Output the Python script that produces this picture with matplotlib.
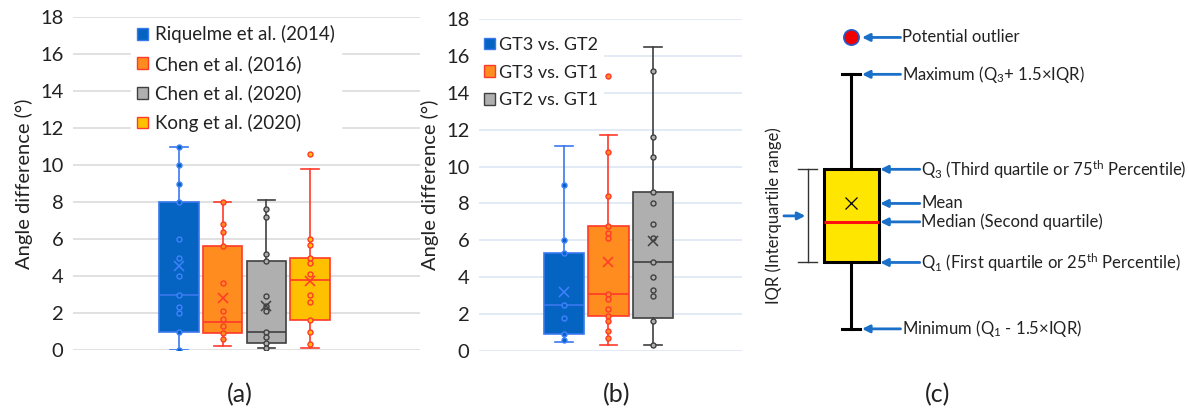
import numpy as np
import matplotlib
matplotlib.use("Agg")
import matplotlib.pyplot as plt
from matplotlib.patches import Patch

plt.rcParams['font.family'] = ['Lato', 'DejaVu Sans']
plt.rcParams['mathtext.fontset'] = 'custom'
plt.rcParams['mathtext.rm'] = 'Lato'
plt.rcParams['mathtext.default'] = 'regular'

# ---------------- panel (a) data ----------------
a_labels = ['Riquelme et al. (2014)', 'Chen et al. (2016)', 'Chen et al. (2020)', 'Kong et al. (2020)']
a_whislo = [0.0, 0.2, 0.1, 0.1]
a_q1 = [1.0, 0.9, 0.4, 1.6]
a_med = [3.0, 1.5, 1.0, 3.8]
a_q3 = [8.0, 5.6, 4.8, 5.0]
a_whishi = [11.0, 8.0, 8.1, 9.8]
a_mean = [4.55, 2.8, 2.4, 3.75]
a_points = [
    [11.0, 10.0, 9.0, 8.0, 6.0, 5.0, 4.0, 3.0, 2.3, 2.0, 1.0, 0.0],
    [8.0, 6.8, 6.4, 5.6, 3.6, 2.1, 1.7, 1.3, 0.9, 0.6],
    [7.6, 7.2, 5.2, 4.8, 2.9, 2.4, 2.1, 1.0, 0.7, 0.4, 0.1],
    [10.6, 6.0, 5.7, 5.0, 4.7, 4.1, 3.0, 2.6, 1.6, 1.0, 0.3],
]

# ---------------- panel (b) data ----------------
b_labels = ['GT3 vs. GT2', 'GT3 vs. GT1', 'GT2 vs. GT1']
b_whislo = [0.5, 0.35, 0.35]
b_q1 = [0.9, 1.9, 1.8]
b_med = [2.5, 3.1, 4.8]
b_q3 = [5.3, 6.8, 8.6]
b_whishi = [11.1, 11.7, 16.5]
b_mean = [3.2, 4.85, 5.95]
b_points = [
    [9.0, 6.0, 5.3, 2.5, 1.8, 0.9, 0.6],
    [14.9, 10.8, 8.4, 6.8, 6.4, 6.1, 3.1, 2.8, 2.3, 1.9, 1.6, 1.1, 0.7],
    [15.2, 11.6, 10.5, 8.6, 8.0, 6.9, 6.1, 4.8, 4.0, 3.3, 3.0, 1.6, 0.35],
]

# ---------------- panel (c) schematic values ----------------
c_whislo, c_q1, c_med, c_q3, c_whishi, c_mean, c_outlier = 1.2, 4.8, 7.0, 9.85, 15.0, 8.0, 17.0

fills = ['#0563C1', '#FF8C1F', '#AFAFAF', '#FFC000']
edges = ['#3A78EE', '#FF3A2A', '#404040', '#FF3A2A']
marks = ['#3F82FF', '#FF3A2A', '#404040', '#FF3A2A']

W, H = 1189, 412
fig = plt.figure(figsize=(W / 100, H / 100), dpi=100)


def draw_panel(ax, whislo, q1, med, q3, whishi, mean, points, gridcol):
    stats = []
    for i in range(len(med)):
        stats.append({'whislo': whislo[i], 'q1': q1[i], 'med': med[i], 'q3': q3[i],
                      'whishi': whishi[i], 'mean': mean[i], 'fliers': []})
    pos = np.arange(1, len(med) + 1)
    bp = ax.bxp(stats, positions=pos, widths=0.9, patch_artist=True,
                showfliers=False, showmeans=False, manage_ticks=False)
    for i in range(len(med)):
        bp['boxes'][i].set(facecolor=fills[i], edgecolor=edges[i], linewidth=1.2, zorder=2)
        bp['medians'][i].set(color=edges[i], linewidth=1.2, zorder=3)
        for ln in bp['whiskers'][2 * i:2 * i + 2] + bp['caps'][2 * i:2 * i + 2]:
            ln.set(color=edges[i], linewidth=1.2, zorder=2)
        for ln in bp['caps'][2 * i:2 * i + 2]:
            c = np.mean(ln.get_xdata())
            ln.set_xdata([c - 0.2, c + 0.2])
        ax.plot(np.full(len(points[i]), pos[i]), points[i], 'o', ms=3.6,
                mfc=fills[i], mec=marks[i], mew=1.0, zorder=4)
        ax.plot(pos[i], mean[i], 'x', ms=7, mec=marks[i], mew=1.1, zorder=5)
    ax.set_ylim(0, 18)
    ax.set_yticks(np.arange(0, 19, 2))
    ax.grid(axis='y', color=gridcol, linewidth=1.2, zorder=0)
    ax.set_axisbelow(True)
    for s in ax.spines.values():
        s.set_visible(False)
    ax.set_xticks([])
    ax.tick_params(axis='y', length=0, labelsize=14.5, pad=7, labelcolor='#222222')
    ax.set_ylabel('Angle difference (°)', fontsize=14.5, color='#222222', labelpad=5)


def make_legend(ax, n, labels, anchor, spacing, size, textpad):
    hs = [Patch(facecolor=fills[i], edgecolor=edges[i], linewidth=1.0) for i in range(n)]
    lg = ax.legend(hs, labels, loc='upper left', bbox_to_anchor=anchor, fontsize=size,
                   frameon=True, framealpha=1, facecolor='white', edgecolor='white',
                   handlelength=0.6, handleheight=0.6, handletextpad=textpad,
                   labelspacing=spacing, borderpad=0.3, fancybox=False)
    for t in lg.get_texts():
        t.set_color('#222222')
    lg.set_zorder(1)
    return lg


# ---------------- (a) ----------------
axa = fig.add_axes([73 / W, 1 - 350 / H, 347 / W, 333 / H])
draw_panel(axa, a_whislo, a_q1, a_med, a_q3, a_whishi, a_mean, a_points, '#DCDCDC')
axa.set_xlim(-1.43, 6.52)
make_legend(axa, 4, a_labels, (0.14, 1.02), 0.62, 13.5, 0.4)

# ---------------- (b) ----------------
axb = fig.add_axes([479 / W, 1 - 351 / H, 263 / W, 332 / H])
draw_panel(axb, b_whislo, b_q1, b_med, b_q3, b_whishi, b_mean, b_points, '#DCE6F4')
axb.set_xlim(-0.91, 5.0)
make_legend(axb, 3, b_labels, (-0.035, 0.99), 0.65, 13, 0.2)

# ---------------- (c) schematic ----------------
axc = fig.add_axes([760 / W, 1 - 351 / H, 429 / W, 332 / H])
axc.set_xlim(-0.655, 7.145)
axc.set_ylim(0, 18)
axc.axis('off')
cb = axc.bxp([{'whislo': c_whislo, 'q1': c_q1, 'med': c_med, 'q3': c_q3,
               'whishi': c_whishi, 'fliers': []}], positions=[1], widths=1.0,
             patch_artist=True, showfliers=False, manage_ticks=False)
cb['boxes'][0].set(facecolor='#FFE600', edgecolor='black', linewidth=2.2)
cb['medians'][0].set(color='#FF1010', linewidth=2.2)
for ln in cb['whiskers'] + cb['caps']:
    ln.set(color='black', linewidth=2.2)
for ln in cb['caps']:
    ln.set_xdata([0.83, 1.17])
axc.plot(1, c_mean, 'x', ms=9, mec='black', mew=0.9, zorder=5)
axc.plot(1, c_outlier, 'o', ms=11, mfc='#F00000', mec='#2060D0', mew=1.2, zorder=5)

arrow_col = '#1A6FC9'
notes = [
    (c_outlier, 1.2, 1.9, 'Potential outlier'),
    (c_whishi, 1.2, 1.9, 'Maximum (Q$_{3}$+ 1.5×IQR)'),
    (c_q3, 1.53, 2.25, 'Q$_{3}$ (Third quartile or 75$^{th}$ Percentile)'),
    (c_mean, 1.53, 2.25, 'Mean'),
    (c_med, 1.53, 2.25, 'Median (Second quartile)'),
    (c_q1, 1.53, 2.25, 'Q$_{1}$ (First quartile or 25$^{th}$ Percentile)'),
    (c_whislo, 1.2, 1.9, 'Minimum (Q$_{1}$ - 1.5×IQR)'),
]
for yv, tip, tail, txt in notes:
    axc.annotate('', xy=(tip, yv), xytext=(tail, yv),
                 arrowprops=dict(arrowstyle='-|>', color=arrow_col, lw=2.0,
                                 mutation_scale=11, shrinkA=0, shrinkB=0))
    axc.text(tail + 0.03, yv, txt, fontsize=12, va='center', ha='left', color='#222222')

# IQR bracket
axc.plot([0.22, 0.22], [c_q1, c_q3], color='#333333', lw=1.0)
axc.plot([0.04, 0.38], [c_q3, c_q3], color='#333333', lw=1.0)
axc.plot([0.04, 0.38], [c_q1, c_q1], color='#333333', lw=1.0)
axc.annotate('', xy=(0.17, (c_q1 + c_q3) / 2), xytext=(-0.22, (c_q1 + c_q3) / 2),
             arrowprops=dict(arrowstyle='-|>', color=arrow_col, lw=2.0,
                             mutation_scale=11, shrinkA=0, shrinkB=0))
axc.text(-0.4, (c_q1 + c_q3) / 2, 'IQR (Interquartile range)', rotation=90,
         fontsize=12, va='center', ha='center', color='#222222')

# panel letters
fig.text(240 / W, 1 - 395 / H, '(a)', fontsize=18, ha='center', va='center', color='#222222')
fig.text(617 / W, 1 - 395 / H, '(b)', fontsize=18, ha='center', va='center', color='#222222')
fig.text(938 / W, 1 - 395 / H, '(c)', fontsize=18, ha='center', va='center', color='#222222')

fig.savefig('out.png', dpi=100)
